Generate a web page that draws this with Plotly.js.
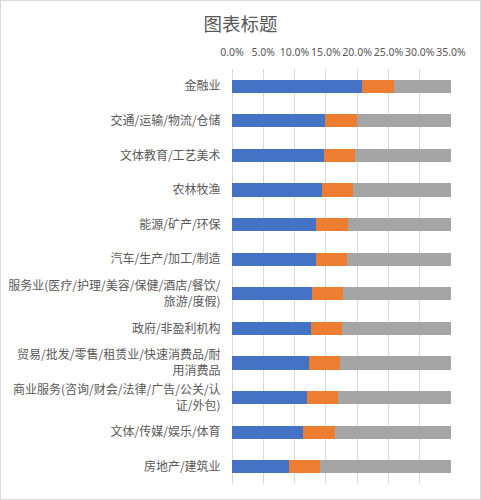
<!DOCTYPE html>
<html>
<head>
<meta charset="utf-8">
<script src="https://cdn.plot.ly/plotly-3.0.1.min.js"></script>
<style>
html,body{margin:0;padding:0;background:#fff;}
#wrap{position:relative;width:481px;height:500px;}
#chart{width:481px;height:500px;}
#border{position:absolute;left:0;top:0;width:481px;height:500px;box-sizing:border-box;border:1px solid #d9d9d9;pointer-events:none;}
</style>
</head>
<body>
<div id="wrap"><div id="chart"></div><div id="border"></div></div>
<script>
const categories = [
  "金融业",
  "交通/运输/物流/仓储",
  "文体教育/工艺美术",
  "农林牧渔",
  "能源/矿产/环保",
  "汽车/生产/加工/制造",
  "服务业(医疗/护理/美容/保健/酒店/餐饮/<br>旅游/度假)",
  "政府/非盈利机构",
  "贸易/批发/零售/租赁业/快速消费品/耐<br>用消费品",
  "商业服务(咨询/财会/法律/广告/公关/认<br>证/外包)",
  "文体/传媒/娱乐/体育",
  "房地产/建筑业"
];
const seriesBlue   = [20.8, 14.9, 14.7, 14.4, 13.5, 13.5, 12.8, 12.7, 12.3, 12.0, 11.4, 9.1];
const seriesOrange = [5.1, 5.1, 5.0, 5.0, 5.1, 4.9, 4.9, 4.9, 4.9, 5.0, 5.1, 5.0];
const seriesGray   = [9.1, 15.0, 15.3, 15.6, 16.4, 16.6, 17.3, 17.4, 17.8, 18.0, 18.5, 20.9];
const xTickVals = [0, 5, 10, 15, 20, 25, 30, 35];
const xTickText = ["0.0%", "5.0%", "10.0%", "15.0%", "20.0%", "25.0%", "30.0%", "35.0%"];

const mk = (vals, color) => ({
  type: 'bar', orientation: 'h', y: categories, x: vals,
  marker: {color: color, line: {width: 0}}, hoverinfo: 'x+y'
});
const data = [mk(seriesBlue, '#4472C4'), mk(seriesOrange, '#ED7D31'), mk(seriesGray, '#A5A5A5')];

const layout = {
  width: 481, height: 500,
  margin: {l: 232, r: 30, t: 69, b: 16},
  paper_bgcolor: '#fff', plot_bgcolor: '#fff',
  barmode: 'stack', bargap: 0.62,
  showlegend: false,
  font: {family: '"Noto Sans CJK SC", "Noto Sans", sans-serif', color: '#595959', size: 12},
  title: {text: '图表标题', x: 0.5, xref: 'container', xanchor: 'center', y: 1 - 25/500, yref: 'container', yanchor: 'middle',
          font: {size: 18.5, color: '#595959', family: '"Noto Sans CJK SC", sans-serif'}},
  xaxis: {side: 'top', range: [0, 35], tickvals: xTickVals, ticktext: xTickText, tickangle: 0,
          showgrid: true, gridcolor: '#d9d9d9', gridwidth: 1, zeroline: true, zerolinecolor: '#d9d9d9', zerolinewidth: 1, showline: false,
          ticks: 'outside', ticklen: 8, tickcolor: 'rgba(0,0,0,0)',
          tickfont: {size: 10.5, color: '#595959', family: '"Noto Sans", sans-serif'}, fixedrange: true},
  yaxis: {type: 'category', autorange: 'reversed', showgrid: false, zeroline: false, showline: false,
          ticks: 'outside', ticklen: 8, tickcolor: 'rgba(0,0,0,0)',
          tickfont: {size: 12, color: '#595959'}, fixedrange: true}
};
Plotly.newPlot('chart', data, layout, {displayModeBar: false, staticPlot: true});
</script>
</body>
</html>
